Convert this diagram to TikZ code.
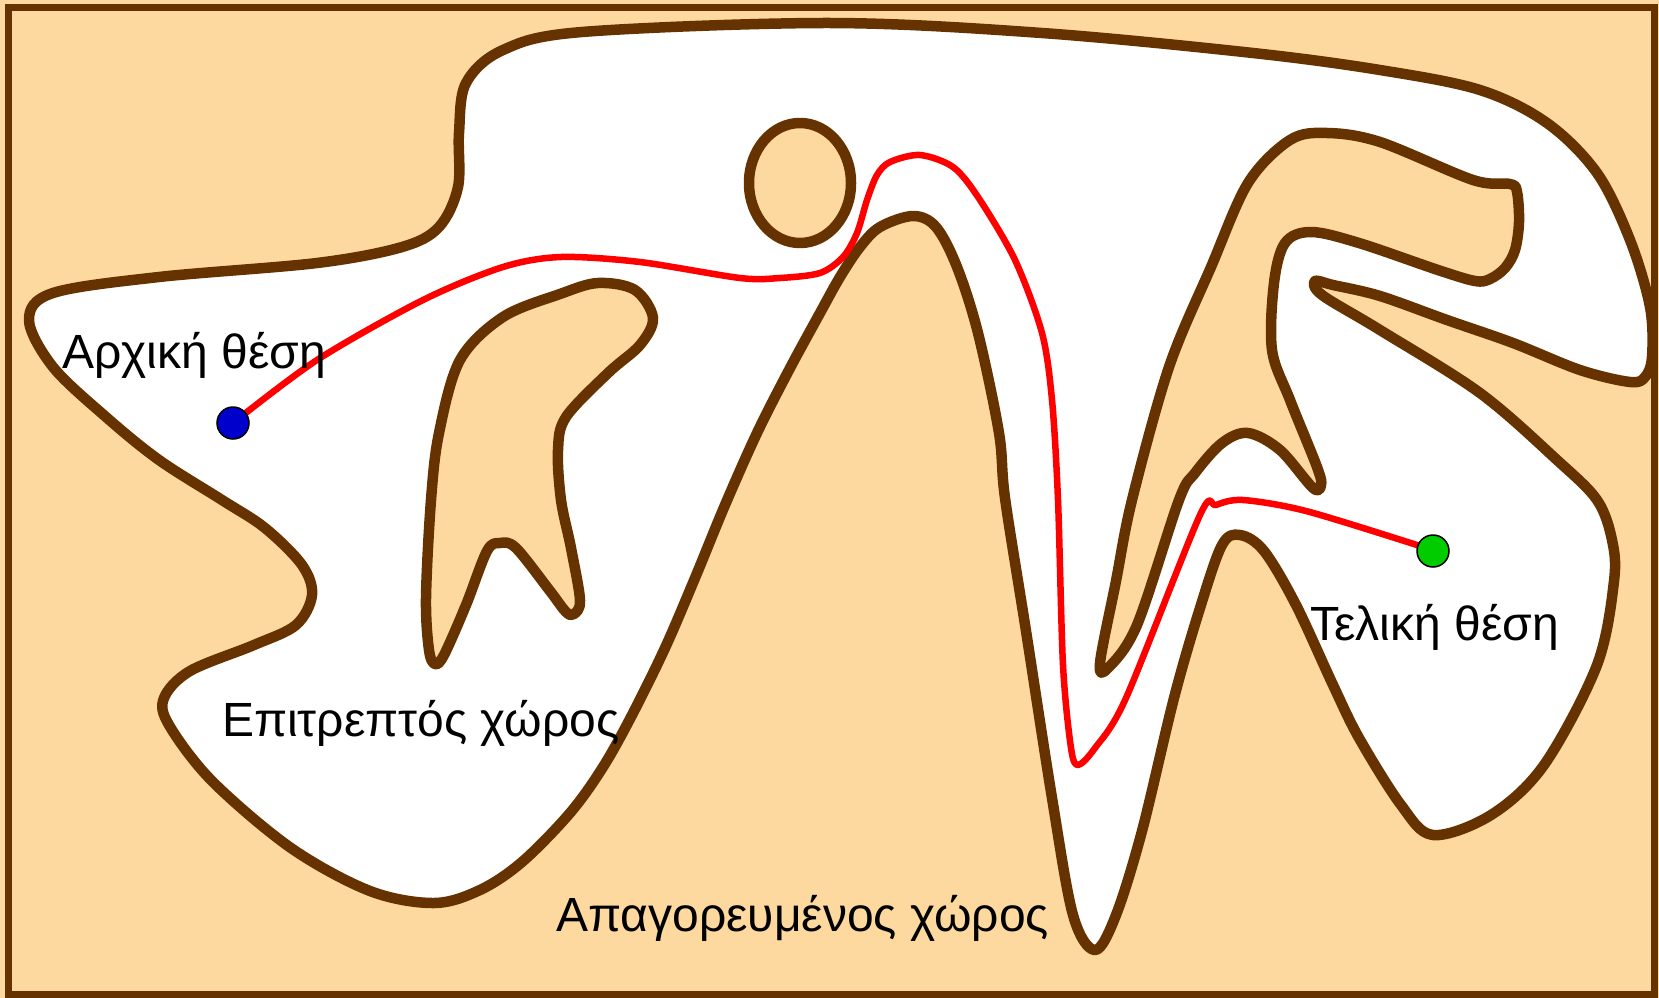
\documentclass[tikz,border=0pt]{standalone}
\usepackage{fontspec}
\setmainfont{Liberation Sans}
\definecolor{tanfill}{HTML}{FDD9A0}
\definecolor{brn}{HTML}{663300}
\definecolor{startblue}{HTML}{0000CC}
\definecolor{goalgreen}{HTML}{00CC00}
\tikzset{
  wall/.style={draw=brn, line width=10.5pt, line join=round},
  freearea/.style={wall, fill=white},
  obstacle/.style={wall, fill=tanfill},
  route/.style={draw=red, line width=6.5pt, line cap=round, line join=round},
  posdot/.style={circle, draw=black, line width=1.5pt, minimum size=32pt, inner sep=0pt},
  lbl/.style={anchor=base west, inner sep=0pt, font=\fontsize{48}{56}\selectfont},
}
\begin{document}
\begin{tikzpicture}[x=1pt,y=-1pt]
\useasboundingbox (0,0) rectangle (1659,998);
\fill[tanfill] (0,0) rectangle (1659,998);
% free space
\draw[freearea] plot[smooth cycle, tension=0.55] coordinates {
 (29,320) (53,293) (159,277) (317,263) (402,247) (439,227) (458,187) (459,133)
 (466,83) (503,50) (582,32) (830,23) (1042,33) (1253,53) (1380,70) (1480,90)
 (1547,123) (1597,173) (1630,240) (1650,307) (1652,357) (1645,377) (1630,382)
 (1580,370) (1513,343) (1447,320) (1380,296) (1333,285) (1315,281) (1322,295)
 (1380,330) (1480,393) (1557,460)
 (1597,500) (1612,540) (1614,581) (1597,665) (1544,765) (1491,815) (1433,835)
 (1401,805) (1359,738) (1333,685) (1296,605) (1264,551) (1240,535) (1222,545)
 (1200,608) (1174,698) (1142,831) (1116,915) (1095,950) (1073,915) (1052,798)
 (1026,631) (1005,498) (999,433) (978,333) (957,267) (936,227) (913,216)
 (880,227) (860,247) (840,277) (820,313) (789,370) (757,433) (725,505) (695,578)
 (665,648) (632,715) (603,767) (570,813) (522,862)
 (480,890) (434,903) (370,891) (291,848) (212,781) (169,725) (164,698) (190,671)
 (254,645) (296,625) (312,595) (302,565) (265,528) (222,500) (159,460) (106,417)
 (53,367)
};
% ellipse obstacle
\draw[obstacle] (800,183) ellipse [x radius=51, y radius=60];
% hammer obstacle
\draw[obstacle] plot[smooth cycle, tension=0.55] coordinates {
 (598,283) (635,290) (653,318) (640,345) (608,373) (566,417) (558,450) (561,500)
 (571,548) (580,600) (574,614) (566,612) (550,591) (516,548) (500,543) (487,551)
 (466,605) (444,655) (435,664) (429,650) (426,598) (431,500) (439,433) (460,360)
 (503,317) (560,294)
};
% top-right obstacle
\draw[obstacle] plot[smooth cycle, tension=0.55] coordinates {
 (1100,663) (1116,581) (1132,500) (1169,367) (1211,267) (1248,183) (1290,140)
 (1327,133) (1380,142) (1473,180) (1510,184) (1517,192) (1519,222) (1515,250)
 (1505,268) (1490,279) (1475,281) (1438,270) (1359,243) (1311,232) (1285,243)
 (1274,283) (1272,350) (1290,400) (1317,467) (1321,485) (1313,488) (1280,450)
 (1248,433) (1222,443) (1195,473) (1179,500) (1137,625) (1108,668)
};
% frame
\draw[brn, line width=7pt] (8.5,7.5) rectangle (1654.5,994.5);
% route
\coordinate (s) at (233,423);
\coordinate (g) at (1433,551);
\draw[route] plot[smooth, tension=0.5] coordinates {
 (s) (317,360) (423,300) (503,267) (561,257) (640,262) (740,278) (780,278)
 (820,273) (843,257) (857,233) (867,200) (877,175) (890,162) (920,155)
 (953,167) (978,197)
 (1015,260) (1042,333) (1052,400) (1058,500) (1063,665) (1071,748) (1078,765)
 (1095,748) (1126,698) (1200,515) (1216,505) (1243,500) (1306,511) (1417,545) (g)
};
\node[posdot, fill=startblue] (start) at (s) {};
\node[posdot, fill=goalgreen] (goal) at (g) {};
% labels
\node[lbl] (lstart) at (62,368) {Αρχική θέση};
\node[lbl] (lgoal) at (1310,640) {Τελική θέση};
\node[lbl] (lfree) at (222,736) {Επιτρεπτός χώρος};
\node[lbl] (lforb) at (556,931) {Απαγορευμένος χώρος};
\end{tikzpicture}
\end{document}
